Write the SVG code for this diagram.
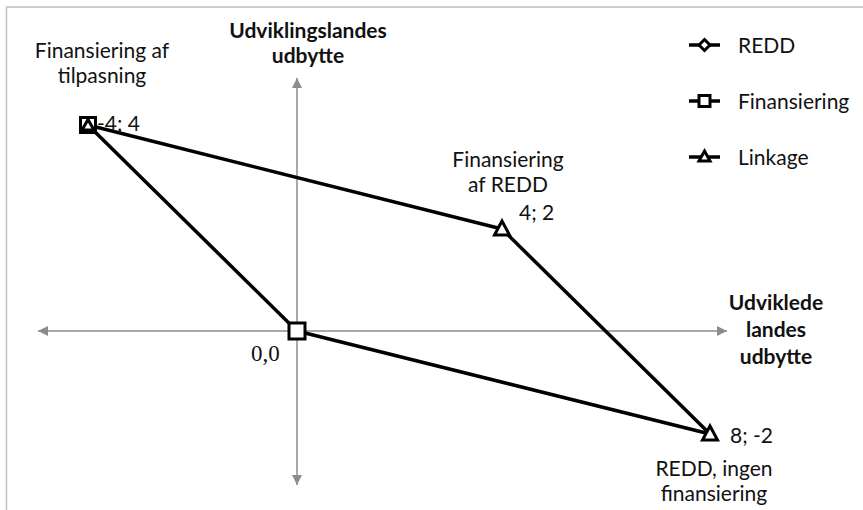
<svg xmlns="http://www.w3.org/2000/svg" width="863" height="510" viewBox="0 0 863 510">
<defs>
<style>
text{font-family:Lato,"Open Sans","Liberation Sans",sans-serif;font-size:21px;fill:#111}
.b{font-weight:bold}
.m{text-anchor:middle}
.ser{font-family:"Liberation Serif",serif;font-size:23px}
.ax{stroke:#8c8c8c;stroke-width:1.5;fill:none}
.ser-line{stroke:#000;stroke-width:3.5;fill:none;stroke-linejoin:round}
.mk{fill:#fff;stroke:#000;stroke-width:3}
</style>
<marker id="ah" viewBox="0 0 10 10" refX="10" refY="5" markerWidth="10" markerHeight="10" markerUnits="userSpaceOnUse" orient="auto-start-reverse">
<path d="M0,0 L10,5 L0,10 z" fill="#8c8c8c"/>
</marker>
</defs>
<rect width="863" height="510" fill="#fff"/>
<path d="M6.5,510 V7 H863" stroke="#bfbfbf" stroke-width="1.5" fill="none"/>
<g id="axes">
<line class="ax" x1="38" y1="331" x2="727" y2="331" marker-start="url(#ah)" marker-end="url(#ah)"/>
<line class="ax" x1="297" y1="485" x2="297" y2="78" marker-start="url(#ah)" marker-end="url(#ah)"/>
<text class="b m" x="308" y="38">Udviklingslandes</text>
<text class="b m" x="308" y="63">udbytte</text>
<text class="b m" x="776" y="310">Udviklede</text>
<text class="b m" x="776" y="337">landes</text>
<text class="b m" x="776" y="364">udbytte</text>
</g>
<g id="connectors">
<polyline class="ser-line" points="297,331 710,434"/>
<polyline class="ser-line" points="297,331 88,125"/>
<polyline class="ser-line" points="88,125 502,229 710,434"/>
</g>
<g id="node-tilpasning">
<rect class="mk" x="80.5" y="117.5" width="15" height="15"/>
<path class="mk" d="M88,119.5 L94,130 H82 z" stroke-width="2.5"/>
<text class="m" x="102" y="58">Finansiering af</text>
<text class="m" x="102" y="83">tilpasning</text>
<text x="97" y="131">-4; 4</text>
</g>
<g id="node-origin">
<rect class="mk" x="289" y="323" width="16" height="16"/>
<text class="ser" x="251" y="361">0,0</text>
</g>
<g id="node-redd-fin">
<path class="mk" d="M502,221 L509.5,235 H494.5 z"/>
<text class="m" x="508" y="167">Finansiering</text>
<text class="m" x="508" y="192">af REDD</text>
<text x="519" y="220">4; 2</text>
</g>
<g id="node-redd">
<path class="mk" d="M710,426 L717.5,440 H702.5 z"/>
<text x="730" y="443">8; -2</text>
<text class="m" x="714" y="476">REDD, ingen</text>
<text class="m" x="714" y="501">finansiering</text>
</g>
<g id="legend">
<line class="ser-line" x1="689" y1="45" x2="720" y2="45"/>
<path class="mk" d="M704.5,39.5 L710,45 L704.5,50.5 L699,45 z" stroke-width="2.5"/>
<text x="738" y="53">REDD</text>
<line class="ser-line" x1="689" y1="101" x2="720" y2="101"/>
<rect class="mk" x="699" y="95.5" width="11" height="11"/>
<text x="738" y="109">Finansiering</text>
<line class="ser-line" x1="689" y1="157" x2="720" y2="157"/>
<path class="mk" d="M704.5,151 L710,161 H699 z" stroke-width="2.5"/>
<text x="738" y="165">Linkage</text>
</g>
</svg>
